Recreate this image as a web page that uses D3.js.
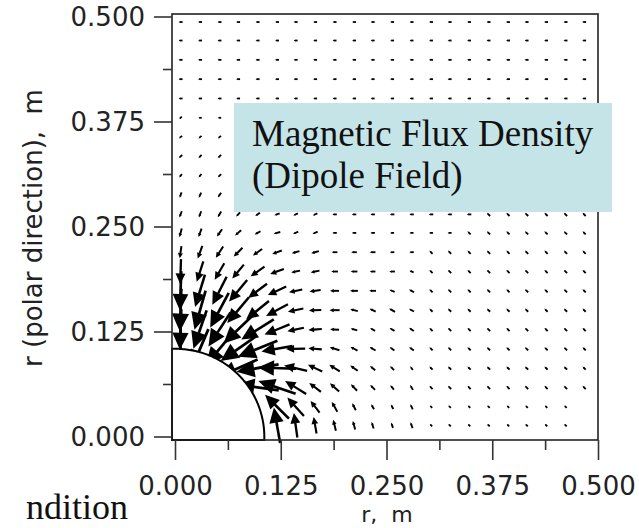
<!DOCTYPE html>
<html><head><meta charset="utf-8">
<script src="https://cdn.jsdelivr.net/npm/d3@7"></script>
<style>html,body{margin:0;padding:0;background:#fff;} svg{display:block;}</style>
</head><body><div id="chart"></div>
<script>
// ---- data ----
const gridX = [0.006,0.029,0.052,0.074,0.097,0.120,0.142,0.165,0.188,0.211,0.233,0.256,0.279,0.302,0.324,0.347,0.370,0.393,0.415,0.438,0.461,0.483];
const gridZ = [0.494,0.472,0.449,0.426,0.403,0.380,0.357,0.334,0.311,0.288,0.265,0.243,0.220,0.197,0.174,0.151,0.128,0.105,0.082,0.059,0.036,0.014];
// arrow direction (degrees, 0 = +r, 90 = +polar) for each grid row (top to bottom) and column
const arrowAngleDeg = [
 [180,180,180,180,180,180,180,180,180,180,180,180,180,180,180,180,180,180,180,180,180,180],
 [180,180,180,180,180,180,180,180,180,180,180,180,180,180,180,180,180,180,180,180,180,180],
 [180,180,180,180,180,180,180,180,180,180,180,180,180,180,180,180,180,180,180,180,180,180],
 [180,180,180,180,180,180,180,180,180,180,180,180,180,180,180,180,180,180,180,180,180,180],
 [180,180,180,180,180,180,180,180,180,180,180,180,180,180,180,180,180,180,180,180,180,180],
 [225,180,180,190,190,185,185,180,180,180,180,180,180,180,180,180,180,180,180,180,180,180],
 [220,220,220,210,200,195,190,185,180,180,180,180,180,180,180,180,180,180,180,180,180,180],
 [225,225,225,215,205,195,190,185,180,180,180,180,180,180,180,180,180,180,180,170,170,170],
 [235,230,225,215,205,200,195,185,180,180,180,180,180,180,180,180,170,160,150,150,150,150],
 [250,245,235,220,210,200,200,190,180,180,180,180,180,180,180,170,150,140,135,135,135,135],
 [250,250,240,225,215,200,205,205,180,180,180,180,180,180,180,180,135,135,135,135,135,135],
 [255,250,235,220,210,195,205,205,180,180,180,180,180,180,180,135,135,135,135,135,135,135],
 [262,250,237,225,215,200,195,195,180,180,180,180,180,135,135,135,135,135,135,135,135,135],
 [268,252,240,230,215,200,192,192,180,180,180,180,160,135,135,135,135,135,135,135,135,135],
 [268,253,243,230,217,205,192,188,180,180,180,158,150,135,135,135,135,135,135,135,135,135],
 [268,254,242,230,219,208,192,182,180,165,155,150,150,135,135,135,135,135,135,135,135,135],
 [268,251,237,224,212,202,192,185,177,165,150,150,145,135,135,135,135,135,135,135,135,135],
 [270,247,230,215,202,190,181,175,163,152,150,145,145,135,135,135,135,135,135,135,135,135],
 [null,null,null,204,190,178,167,155,148,145,140,135,125,135,135,135,135,135,135,135,135,135],
 [null,null,null,null,172,161,148,143,138,133,135,130,120,135,135,135,135,135,135,135,135,135],
 [null,null,null,null,null,135,132,128,120,117,120,118,115,135,135,135,135,135,135,135,135,null],
 [null,null,null,null,null,100,98,100,104,105,108,110,110,135,135,135,135,135,135,135,135,null]
];
// relative flux density magnitude (arbitrary units) for the same cells
const arrowMagnitude = [
 [.35,.35,.35,.35,.35,.35,.35,.35,.35,.35,.35,.35,.35,.35,.35,.35,.35,.35,.35,.35,.35,.35],
 [.35,.35,.35,.35,.35,.35,.35,.35,.35,.35,.35,.35,.35,.35,.35,.35,.35,.35,.35,.35,.35,.35],
 [.35,.35,.35,.35,.35,.35,.35,.35,.35,.35,.35,.35,.35,.35,.35,.35,.35,.35,.35,.35,.35,.35],
 [.35,.35,.35,.35,.35,.35,.35,.35,.35,.35,.35,.35,.35,.35,.35,.35,.35,.35,.35,.35,.35,.35],
 [.35,.35,.35,.35,.35,.35,.35,.35,.35,.35,.35,.35,.35,.35,.35,.35,.35,.35,.35,.35,.35,.35],
 [.3,.3,.3,.3,.3,.3,.3,.3,.3,.3,.3,.3,.3,.3,.3,.3,.3,.3,.3,.3,.3,.3],
 [.35,.35,.35,.35,.35,.35,.35,.35,.35,.35,.35,.35,.35,.35,.35,.35,.35,.35,.35,.35,.35,.35],
 [.4,.4,.4,.4,.4,.4,.4,.4,.4,.4,.4,.4,.4,.4,.4,.4,.4,.4,.4,.4,.4,.4],
 [.4,.4,.4,.4,.4,.4,.4,.4,.4,.4,.4,.4,.4,.4,.4,.4,.4,.4,.4,.4,.4,.4],
 [.5,.5,.5,.45,.45,.45,.4,.4,.4,.4,.4,.4,.4,.4,.4,.4,.4,.4,.4,.4,.4,.4],
 [.6,.6,.6,.5,.5,.5,.45,.45,.4,.4,.4,.4,.4,.4,.4,.4,.4,.4,.4,.4,.4,.4],
 [.8,.8,.8,.7,.6,.6,.5,.5,.4,.4,.4,.35,.35,.35,.35,.4,.4,.4,.4,.4,.4,.4],
 [1.1,1.2,1.2,1.1,1.0,.9,.7,.7,.5,.5,.5,.4,.4,.4,.4,.4,.4,.4,.4,.4,.4,.4],
 [2.2,1.9,1.7,1.6,1.5,1.3,.8,.8,.6,.6,.5,.5,.4,.4,.4,.4,.4,.4,.4,.4,.4,.4],
 [3.5,3.0,2.8,2.5,2.1,1.8,1.2,1.0,.8,.7,.6,.5,.5,.4,.4,.4,.4,.4,.4,.4,.4,.4],
 [3.8,3.6,3.5,3.0,2.6,2.2,1.4,1.1,.9,.7,.6,.6,.5,.4,.4,.4,.4,.4,.4,.4,.4,.4],
 [3.6,3.6,3.6,3.6,3.4,2.4,1.5,1.2,.8,.6,.5,.5,.5,.4,.4,.4,.4,.4,.4,.4,.4,.4],
 [3.8,3.8,3.8,3.8,3.8,2.8,1.7,1.2,.9,.7,.6,.5,.5,.4,.4,.4,.4,.4,.4,.4,.4,.4],
 [null,null,null,3.8,3.8,3.4,2.1,1.4,1.1,.8,.6,.5,.4,.4,.4,.4,.4,.4,.4,.4,.4,.4],
 [null,null,null,null,3.8,3.5,2.2,1.3,1.1,.8,.6,.5,.5,.4,.4,.4,.4,.4,.4,.4,.4,.4],
 [null,null,null,null,null,3.0,2.2,1.3,1.0,.7,.5,.45,.5,.3,.3,.3,.3,.3,.3,.3,.3,null],
 [null,null,null,null,null,3.2,2.2,1.5,1.0,.8,.6,.5,.55,.3,.3,.3,.3,.3,.3,.3,.3,null]
];
const majorTicks = [0, 0.125, 0.25, 0.375, 0.5];
const minorTicks = [0.0625, 0.1875, 0.3125, 0.4375];
const tickLabels = ["0.000", "0.125", "0.250", "0.375", "0.500"];
const sphereRadius = 0.105;
const titleLines = ["Magnetic Flux Density", "(Dipole Field)"];
const xLabel = "r,\u00a0\u00a0m";
const yLabel = "r (polar direction),\u00a0\u00a0m";
const footText = "ndition";

// ---- layout ----
const W = 639, H = 528;
const frame = {left: 172, top: 14, right: 598, bottom: 440};
const x = d3.scaleLinear().domain([0, 0.5]).range([175.5, 598.5]);
const y = d3.scaleLinear().domain([0, 0.5]).range([437, 17]);
const len = d3.scaleLinear().domain([0, 4]).range([0, 45]);
const sansFont = "'DejaVu Sans', Verdana, sans-serif";
const serifFont = "'Liberation Serif', 'Times New Roman', serif";

const svg = d3.select("#chart").append("svg").attr("width", W).attr("height", H);

// arrows
const arrows = [];
arrowAngleDeg.forEach((row, j) => row.forEach((a, i) => {
  const m = arrowMagnitude[j][i];
  if (a == null || m == null) return;
  arrows.push({x: gridX[i], z: gridZ[j], a, m});
}));
const gA = svg.append("g");
arrows.forEach(d => {
  const cx = x(d.x), cy = y(d.z), L = len(d.m);
  const ux = Math.cos(d.a * Math.PI / 180), uy = -Math.sin(d.a * Math.PI / 180);
  const tx = cx - ux * L / 2, ty = cy - uy * L / 2;
  const hx = cx + ux * L / 2, hy = cy + uy * L / 2;
  const hl = 0.42 * L, hw = 0.2 * L;
  const bx = hx - ux * hl, by = hy - uy * hl;
  gA.append("line").attr("x1", tx).attr("y1", ty).attr("x2", bx + ux * 0.5).attr("y2", by + uy * 0.5)
    .attr("stroke", "#000").attr("stroke-width", 1.7 + 0.025 * L);
  gA.append("path")
    .attr("d", `M${hx},${hy}L${bx - uy * hw},${by + ux * hw}L${bx + uy * hw},${by - ux * hw}Z`)
    .attr("fill", "#000");
});

// sphere (white quarter disk with outline)
const arcPts = d3.range(0, 91, 1).map(t => [x(sphereRadius * Math.sin(t * Math.PI / 180)), y(sphereRadius * Math.cos(t * Math.PI / 180))]);
const spherePath = "M" + frame.left + "," + arcPts[0][1] + "L" + arcPts.map(p => p.join(",")).join("L") +
  "L" + arcPts[arcPts.length - 1][0] + "," + frame.bottom + "L" + frame.left + "," + frame.bottom + "Z";
svg.append("path").attr("d", spherePath).attr("fill", "#fff").attr("stroke", "#000").attr("stroke-width", 2);

// frame
svg.append("rect").attr("x", frame.left).attr("y", frame.top)
  .attr("width", frame.right - frame.left).attr("height", frame.bottom - frame.top)
  .attr("fill", "none").attr("stroke", "#222").attr("stroke-width", 1.6);

// ticks
const tk = svg.append("g").attr("stroke", "#333").attr("stroke-width", 1.6);
majorTicks.forEach(v => {
  tk.append("line").attr("x1", frame.left - 18).attr("x2", frame.left).attr("y1", y(v)).attr("y2", y(v));
  tk.append("line").attr("y1", frame.bottom).attr("y2", frame.bottom + 20).attr("x1", x(v)).attr("x2", x(v));
});
minorTicks.forEach(v => {
  tk.append("line").attr("x1", frame.left - 9).attr("x2", frame.left).attr("y1", y(v)).attr("y2", y(v));
  tk.append("line").attr("y1", frame.bottom).attr("y2", frame.bottom + 10).attr("x1", x(v)).attr("x2", x(v));
});
const lab = svg.append("g").style("font-family", sansFont).attr("fill", "#222");
majorTicks.forEach((v, k) => {
  lab.append("text").attr("x", 145).attr("y", y(v)).attr("dy", "0.36em").attr("text-anchor", "end")
    .attr("font-size", 26).text(tickLabels[k]);
  lab.append("text").attr("x", x(v)).attr("y", 495).attr("text-anchor", "middle")
    .attr("font-size", 26).text(tickLabels[k]);
});
lab.append("text").attr("x", 387).attr("y", 522).attr("text-anchor", "middle")
  .attr("font-size", 22).text(xLabel);
lab.append("text").attr("transform", "translate(42,228) rotate(-90)").attr("text-anchor", "middle")
  .attr("font-size", 26).text(yLabel);

// annotation box
svg.append("rect").attr("x", 234).attr("y", 103).attr("width", 378).attr("height", 109).attr("fill", "#c5e4e8");
titleLines.forEach((t, k) => {
  svg.append("text").attr("x", 252).attr("y", 146 + k * 42)
    .style("font-family", serifFont).attr("font-size", 37).attr("fill", "#111").text(t);
});
svg.append("text").attr("x", 128).attr("y", 519).attr("text-anchor", "end")
  .style("font-family", serifFont).attr("font-size", 36).attr("fill", "#111").text(footText);
</script></body></html>
